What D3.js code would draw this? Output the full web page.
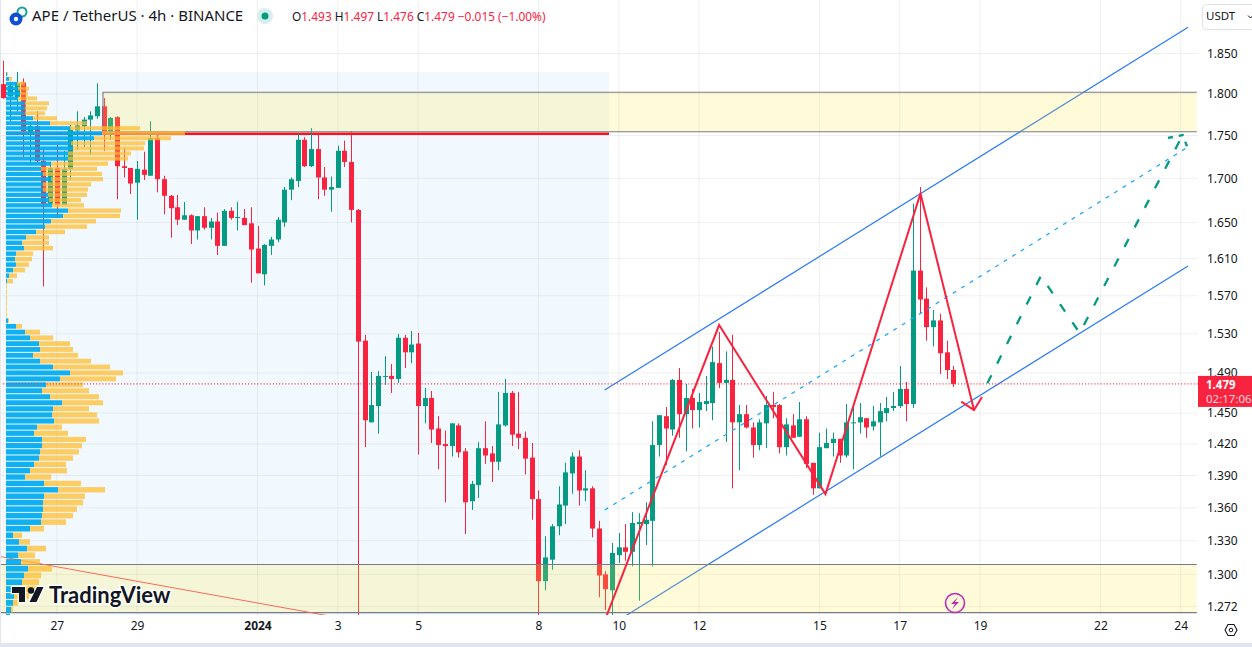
<!DOCTYPE html>
<html>
<head>
<meta charset="utf-8">
<script src="https://cdn.jsdelivr.net/npm/d3@7"></script>
<style>
    html, body { margin: 0; padding: 0; background: #fff; overflow: hidden; }
    text { font-family: "Noto Sans", sans-serif; }
</style>
</head>
<body>
<div id="vis"></div>
<script>
'use strict';

//4h candles, oldest first, the last one is still open
var opens = [
    1.812,1.797,1.796,1.814,1.754,1.761,1.720,1.671,1.712,1.670,
    1.711,1.756,1.761,1.769,1.773,1.785,1.755,1.772,1.714,1.712,
    1.695,1.710,1.703,1.747,1.699,1.680,1.667,1.653,1.658,1.641,
    1.657,1.644,1.651,1.624,1.663,1.655,1.655,1.649,1.621,1.593,
    1.624,1.631,1.650,1.687,1.697,1.745,1.714,1.734,1.701,1.687,
    1.689,1.732,1.719,1.664,1.523,1.441,1.457,1.486,1.487,1.484,
    1.526,1.511,1.520,1.457,1.465,1.435,1.420,1.418,1.438,1.413,
    1.366,1.381,1.416,1.411,1.403,1.438,1.470,1.430,1.426,1.407,
    1.368,1.294,1.313,1.343,1.362,1.392,1.408,1.376,1.378,1.341,
    1.300,1.286,1.317,1.324,1.320,1.345,1.345,1.348,1.419,1.447,
    1.434,1.483,1.449,1.465,1.453,1.459,1.460,1.500,1.480,1.483,
    1.441,1.449,1.436,1.419,1.440,1.458,1.458,1.417,1.438,1.427,
    1.444,1.402,1.378,1.416,1.421,1.425,1.409,1.440,1.441,1.445,
    1.437,1.441,1.450,1.455,1.457,1.474,1.459,1.597,1.567,1.537,
    1.544,1.511,1.493
];
var highs = [
    1.841,1.815,1.827,1.819,1.763,1.779,1.735,1.719,1.741,1.732,
    1.763,1.779,1.772,1.779,1.813,1.795,1.772,1.773,1.735,1.712,
    1.720,1.731,1.767,1.751,1.703,1.681,1.681,1.673,1.659,1.657,
    1.667,1.655,1.661,1.665,1.667,1.673,1.665,1.667,1.646,1.626,
    1.634,1.656,1.690,1.701,1.752,1.748,1.759,1.752,1.713,1.702,
    1.738,1.744,1.755,1.665,1.529,1.491,1.492,1.507,1.499,1.530,
    1.529,1.533,1.531,1.475,1.472,1.447,1.433,1.440,1.440,1.416,
    1.385,1.422,1.442,1.418,1.471,1.484,1.472,1.471,1.432,1.421,
    1.376,1.334,1.345,1.380,1.402,1.412,1.414,1.395,1.380,1.348,
    1.303,1.328,1.337,1.345,1.356,1.355,1.365,1.442,1.448,1.456,
    1.484,1.495,1.479,1.474,1.470,1.487,1.517,1.532,1.512,1.529,
    1.458,1.458,1.441,1.444,1.467,1.471,1.459,1.445,1.449,1.461,
    1.447,1.402,1.431,1.435,1.431,1.425,1.459,1.456,1.460,1.445,
    1.457,1.460,1.466,1.471,1.497,1.481,1.671,1.690,1.579,1.555,
    1.551,1.523,1.497
];
var lows = [
    1.794,1.767,1.779,1.724,1.716,1.718,1.580,1.671,1.656,1.670,
    1.698,1.733,1.736,1.727,1.770,1.732,1.745,1.676,1.701,1.682,
    1.653,1.698,1.703,1.684,1.659,1.633,1.647,1.653,1.626,1.631,
    1.642,1.631,1.614,1.624,1.653,1.641,1.647,1.584,1.594,1.581,
    1.614,1.628,1.645,1.675,1.690,1.713,1.713,1.676,1.680,1.662,
    1.689,1.713,1.650,1.258,1.417,1.441,1.430,1.478,1.470,1.480,
    1.495,1.500,1.410,1.440,1.421,1.396,1.365,1.408,1.407,1.336,
    1.358,1.369,1.401,1.384,1.395,1.437,1.418,1.415,1.391,1.349,
    1.258,1.286,1.304,1.335,1.345,1.373,1.362,1.366,1.333,1.280,
    1.269,1.262,1.310,1.312,1.307,1.277,1.326,1.307,1.408,1.400,
    1.428,1.426,1.413,1.435,1.436,1.452,1.443,1.475,1.422,1.378,
    1.395,1.435,1.407,1.414,1.416,1.445,1.411,1.409,1.426,1.427,
    1.397,1.372,1.378,1.416,1.408,1.402,1.407,1.396,1.430,1.426,
    1.433,1.408,1.442,1.452,1.455,1.442,1.455,1.551,1.523,1.517,
    1.489,1.484,1.476
];
var closes = [
    1.795,1.810,1.813,1.755,1.761,1.720,1.671,1.712,1.670,1.711,
    1.757,1.762,1.769,1.774,1.785,1.755,1.771,1.714,1.712,1.694,
    1.711,1.704,1.747,1.699,1.680,1.666,1.653,1.658,1.641,1.657,
    1.644,1.651,1.624,1.663,1.655,1.656,1.647,1.620,1.594,1.625,
    1.631,1.653,1.687,1.699,1.745,1.714,1.734,1.701,1.687,1.690,
    1.732,1.719,1.664,1.522,1.443,1.458,1.487,1.487,1.484,1.526,
    1.511,1.519,1.457,1.465,1.434,1.419,1.418,1.440,1.412,1.365,
    1.382,1.416,1.409,1.403,1.439,1.470,1.429,1.426,1.406,1.368,
    1.294,1.315,1.343,1.363,1.393,1.408,1.376,1.378,1.341,1.299,
    1.287,1.319,1.324,1.320,1.346,1.347,1.349,1.419,1.448,1.435,
    1.483,1.449,1.465,1.453,1.461,1.462,1.501,1.480,1.483,1.441,
    1.449,1.436,1.419,1.441,1.458,1.456,1.417,1.439,1.426,1.444,
    1.401,1.378,1.417,1.421,1.425,1.409,1.441,1.441,1.446,1.436,
    1.442,1.452,1.455,1.457,1.474,1.459,1.597,1.566,1.537,1.544,
    1.510,1.493,1.479
];

//volume profile rows, top row first
var vpTopPrice = 1.8244;
var vpStep = 0.00597;
var vpBoxTop = 1.8269;
var vpUp = [
    1,3,11,12,14,12,19,19,19,27,
    44,64,96,88,65,67,62,62,45,35,
    37,45,37,37,42,43,46,62,57,45,
    39,30,20,16,18,10,9,10,7,3,
    1,0,0,0,0,0,0,
    2,10,19,24,33,34,27,34,47,64,
    54,40,36,44,56,47,46,48,31,28,
    36,36,34,33,28,24,19,38,52,38,
    37,37,36,35,24,7,13,21,12,15,
    22,18,16,12,8,7,5,4
];
var vpDown = [
    1,3,8,11,8,19,24,22,20,24,
    37,70,83,77,74,71,63,60,57,56,
    59,52,48,45,39,32,32,53,57,45,
    42,29,23,27,29,17,17,13,12,8,
    6,1,1,1,1,1,1,
    1,6,15,23,31,33,45,51,57,53,
    56,37,47,49,41,36,45,45,25,34,
    44,40,39,34,32,37,26,37,47,41,
    40,34,31,25,14,9,11,19,17,19,
    24,17,17,24,15,5,2,0
];

//axes
var priceTicks = [1.85,1.8,1.75,1.7,1.65,1.61,1.57,1.53,1.49,1.45,1.42,1.39,1.36,1.33,1.3,1.272];
var timeTickBars = [8,20,38,50,62,80,92,104,122,134,146,164,176];
var timeTickLabels = ['27','29','2024','3','5','8','10','12','15','17','19','22','24'];

//drawings as [bar, price]
var channelUpper = [[89.9,1.4729],[177.1,1.8831]];
var channelMiddle = [[89.9,1.3579],[177.0,1.7361]];
var channelLower = [[90.1,1.2536],[177.1,1.6020]];
var zigzag = [[90.2,1.2643],[107,1.5392],[122.9,1.3727],[137.1,1.6826],[145.1,1.4531]];
var zigzagHead = [[143.2,1.4613],[145.1,1.4531],[146.3,1.4660]];
var forecast = [[147.1,1.4796],[155.1,1.5912],[160.9,1.5309],[176.3,1.7506]];
var forecastHead = [[174.1,1.7471],[176.3,1.7506],[177.1,1.7341]];
var triangleLine = [[-0.5,1.3158],[48.7,1.2639]];
var zoneHigh = { from: 14.9, to: 178.4, top: 1.8020, bottom: 1.7545 };
var zoneLow = { from: -1, to: 178.4, top: 1.3087, bottom: 1.2667 };
var pocPrice = 1.7522;
var lastPrice = 1.479;
var profileEndBar = 90.55;

var width = 1252;
var height = 647;
var plotRight = 1198;
var plotBottom = 615;

var col = {
    up: '#059a82',
    down: '#f7233f',
    text: '#131722',
    grid: 'rgba(42,46,57,0.07)',
    channel: '#2a7bf5',
    mid: '#1fa8ff',
    zone: 'rgba(255,235,59,0.2)',
    zoneLine: '#787b86'
};

var x = d3.scaleLinear().domain([0, 176]).range([3.3, 1180.7]);
var y = d3.scaleLog().domain([1.272, 1.85]).range([606.5, 53.5]);

var svg = d3.select('#vis').append('svg')
    .attr('width', width)
    .attr('height', height)
    .style('display', 'block');

svg.append('clipPath').attr('id', 'plot')
    .append('rect')
    .attr('width', plotRight)
    .attr('height', plotBottom);

var line = d3.line()
    .x(function (d) { return x(d[0]); })
    .y(function (d) { return y(d[1]); });

var plot = svg.append('g').attr('clip-path', 'url(#plot)');

function drawGrid() {
    plot.selectAll('.hgrid').data(priceTicks).join('line')
        .attr('class', 'hgrid')
        .attr('x1', 0).attr('x2', plotRight)
        .attr('y1', function (d) { return y(d); })
        .attr('y2', function (d) { return y(d); })
        .attr('stroke', col.grid);
    plot.selectAll('.vgrid').data(timeTickBars).join('line')
        .attr('class', 'vgrid')
        .attr('x1', function (d) { return x(d); })
        .attr('x2', function (d) { return x(d); })
        .attr('y1', 0).attr('y2', plotBottom)
        .attr('stroke', col.grid);
}

//light blue box behind the candles that the profile covers
function drawProfileBox() {
    plot.append('rect')
        .attr('x', 2)
        .attr('y', y(vpBoxTop))
        .attr('width', x(profileEndBar) - 2)
        .attr('height', plotBottom)
        .attr('fill', 'rgba(33,150,243,0.06)');
    plot.append('line')
        .attr('x1', 6).attr('x2', x(profileEndBar))
        .attr('y1', y(pocPrice)).attr('y2', y(pocPrice))
        .attr('stroke', '#ff0f1f')
        .attr('stroke-width', 2.4);
}

function drawCandles() {
    var bars = d3.range(opens.length);
    var g = plot.append('g');
    function barColor(i) { return closes[i] >= opens[i] ? col.up : col.down; }

    g.selectAll('.wick').data(bars).join('line')
        .attr('x1', function (i) { return Math.round(x(i)) + 0.5; })
        .attr('x2', function (i) { return Math.round(x(i)) + 0.5; })
        .attr('y1', function (i) { return y(highs[i]); })
        .attr('y2', function (i) { return y(lows[i]); })
        .attr('stroke', barColor);
    g.selectAll('.body').data(bars).join('rect')
        .attr('x', function (i) { return Math.round(x(i)) - 2; })
        .attr('width', 5)
        .attr('y', function (i) { return y(Math.max(opens[i], closes[i])); })
        .attr('height', function (i) {
            return Math.max(1, y(Math.min(opens[i], closes[i])) - y(Math.max(opens[i], closes[i])));
        })
        .attr('fill', barColor);
}

//zones are open on the right side
function drawZone(z) {
    plot.append('rect')
        .attr('x', x(z.from))
        .attr('width', x(z.to) - x(z.from))
        .attr('y', y(z.top))
        .attr('height', y(z.bottom) - y(z.top))
        .attr('fill', col.zone);
    plot.append('path')
        .attr('d', line([[z.to, z.top], [z.from, z.top], [z.from, z.bottom], [z.to, z.bottom]]))
        .attr('fill', 'none')
        .attr('stroke', col.zoneLine)
        .attr('stroke-width', 1.1);
}

function drawLine(points, color, lineWidth, dash) {
    plot.append('path')
        .attr('d', line(points))
        .attr('fill', 'none')
        .attr('stroke', color)
        .attr('stroke-width', lineWidth)
        .attr('stroke-dasharray', dash || null);
}

function drawProfile() {
    var vol = d3.scaleLinear().domain([0, 180]).range([6, 186]);
    var rows = d3.range(vpUp.length);
    function rowPrice(i) { return vpTopPrice - vpStep * i; }
    function rowTop(i) { return y(rowPrice(i) + vpStep / 2) + 0.5; }
    function rowHeight(i) { return y(rowPrice(i) - vpStep / 2) - y(rowPrice(i) + vpStep / 2) - 1; }

    var g = plot.append('g');
    g.selectAll('.up').data(rows).join('rect')
        .attr('x', vol(0))
        .attr('y', rowTop)
        .attr('height', rowHeight)
        .attr('width', function (i) { return vol(vpUp[i]) - vol(0); })
        .attr('fill', 'rgba(0,170,240,0.93)');
    g.selectAll('.down').data(rows).join('rect')
        .attr('x', function (i) { return vol(vpUp[i]); })
        .attr('y', rowTop)
        .attr('height', rowHeight)
        .attr('width', function (i) { return vol(vpDown[i]) - vol(0); })
        .attr('fill', 'rgba(255,190,50,0.75)');
}

function drawAxes() {
    var priceAxis = svg.append('g')
        .attr('transform', 'translate(' + (plotRight + 9) + ',0)')
        .call(d3.axisRight(y)
            .tickValues(priceTicks)
            .tickFormat(d3.format('.3f'))
            .tickSize(0)
            .tickPadding(0));
    priceAxis.select('.domain').remove();
    priceAxis.selectAll('text')
        .style('font-family', '"Noto Sans", sans-serif')
        .style('font-size', '12px')
        .attr('fill', col.text);

    var timeAxis = svg.append('g')
        .attr('transform', 'translate(0,' + 621 + ')')
        .call(d3.axisBottom(x)
            .tickValues(timeTickBars)
            .tickFormat(function (d, i) { return timeTickLabels[i]; })
            .tickSize(0)
            .tickPadding(0));
    timeAxis.select('.domain').remove();
    timeAxis.selectAll('text')
        .style('font-family', '"Noto Sans", sans-serif')
        .style('font-size', '12px')
        .style('font-weight', function (d, i) { return timeTickLabels[i] === '2024' ? 700 : 400; })
        .attr('fill', col.text);
}

function drawLastPrice() {
    plot.append('line')
        .attr('x1', 0).attr('x2', plotRight)
        .attr('y1', y(lastPrice)).attr('y2', y(lastPrice))
        .attr('stroke', col.down)
        .attr('stroke-dasharray', '1.2 1.9');
}

function drawPriceTag() {
    svg.append('rect')
        .attr('x', plotRight)
        .attr('y', y(lastPrice) - 8)
        .attr('width', width - plotRight)
        .attr('height', 31)
        .attr('fill', col.down);
    svg.append('text')
        .text(lastPrice.toFixed(3))
        .attr('x', 1206).attr('y', y(lastPrice) + 5)
        .attr('fill', '#fff')
        .style('font-size', '11.5px')
        .style('font-weight', 700);
    svg.append('text')
        .text('02:17:06')
        .attr('x', 1206).attr('y', y(lastPrice) + 19)
        .attr('fill', '#ffd5da')
        .style('font-size', '11.5px');
}

function drawHeader() {
    //symbol logo
    svg.append('circle').attr('cx', 22).attr('cy', 12).attr('r', 4.5)
        .attr('fill', 'none').attr('stroke', '#12a594').attr('stroke-width', 2);
    svg.append('circle').attr('cx', 16).attr('cy', 19).attr('r', 6.5).attr('fill', '#0f4fd0');
    svg.append('circle').attr('cx', 16).attr('cy', 19).attr('r', 2.2).attr('fill', '#fff');

    svg.append('text')
        .text('APE / TetherUS · 4h · BINANCE')
        .attr('x', 32).attr('y', 21)
        .attr('fill', col.text)
        .style('font-size', '15px');

    svg.append('circle').attr('cx', 265).attr('cy', 16).attr('r', 8).attr('fill', '#d7f0ec');
    svg.append('circle').attr('cx', 265).attr('cy', 16).attr('r', 3.5).attr('fill', col.up);

    var legend = svg.append('text')
        .attr('x', 292).attr('y', 21)
        .style('font-size', '11.9px');
    [['O', '1.493 '], ['H', '1.497 '], ['L', '1.476 '], ['C', '1.479 '], ['', '\u22120.015 (\u22121.00%)']].forEach(function (d) {
        legend.append('tspan').text(d[0]).attr('fill', col.text);
        legend.append('tspan').text(d[1]).attr('fill', col.down);
    });

    //currency button
    svg.append('rect')
        .attr('x', 1202.5).attr('y', 4.5)
        .attr('width', 60).attr('height', 25).attr('rx', 4)
        .attr('fill', '#fff').attr('stroke', '#dfe2ea');
    svg.append('text')
        .text('USDT').attr('x', 1206).attr('y', 20)
        .attr('fill', col.text)
        .style('font-size', '11.5px');
    svg.append('path')
        .attr('d', 'M1248,15.5l2.5,2.5l2.5,-2.5')
        .attr('fill', 'none').attr('stroke', col.text);
}

function drawWatermark() {
    var mark = svg.append('g');
    mark.append('path')
        .attr('d', 'M12,587H25V602H19V593H12Z M37,587H43.5L36.5,602H29.5Z')
        .attr('fill', col.text)
        .attr('stroke', '#fff')
        .attr('stroke-width', 2.5)
        .attr('paint-order', 'stroke');
    mark.append('circle')
        .attr('cx', 31).attr('cy', 590.5).attr('r', 3.2)
        .attr('fill', col.text);
    mark.append('text')
        .text('TradingView')
        .attr('x', 49).attr('y', 603)
        .attr('fill', col.text)
        .attr('stroke', '#fff')
        .attr('stroke-width', 3)
        .attr('paint-order', 'stroke')
        .style('font-family', 'Lato, sans-serif')
        .style('font-size', '22px')
        .style('font-weight', 700);
}

function drawIcons() {
    //lightning marker under the last candles
    svg.append('circle').attr('cx', 955).attr('cy', 603).attr('r', 9.5)
        .attr('fill', '#fff8d6').attr('stroke', '#b82cb8').attr('stroke-width', 1.6);
    svg.append('path')
        .attr('d', 'M958,597L951,604H955L952,609L959,602H955Z')
        .attr('fill', '#b82cb8');

    //settings hexagon
    svg.append('path')
        .attr('d', 'M1225,630L1228,624.5H1234L1237,630L1234,635.5H1228Z')
        .attr('fill', 'none').attr('stroke', col.text).attr('stroke-width', 1.1);
    svg.append('circle').attr('cx', 1231).attr('cy', 630).attr('r', 1.8)
        .attr('fill', 'none').attr('stroke', col.text);

    //window edges
    svg.append('rect').attr('y', 643).attr('width', width).attr('height', 4).attr('fill', '#e0e5f0');
    svg.append('rect').attr('width', 1).attr('height', height).attr('fill', '#e0e5f0');
}

drawGrid();
drawProfileBox();
drawCandles();
drawLine(channelUpper, col.channel, 1.2);
drawLine(channelMiddle, col.mid, 1.3, '4 6');
drawLine(channelLower, col.channel, 1.2);
drawZone(zoneHigh);
drawZone(zoneLow);
drawLine(triangleLine, '#fa6a5c', 1);
drawLine(zigzag, col.down, 2);
drawLine(zigzagHead, col.down, 2);
drawLine(forecast, col.up, 2.3, '9 13');
drawLine(forecastHead, col.up, 2.3, '5 6');
drawProfile();
drawLastPrice();
drawAxes();
drawPriceTag();
drawHeader();
drawIcons();
drawWatermark();
</script>
</body>
</html>
